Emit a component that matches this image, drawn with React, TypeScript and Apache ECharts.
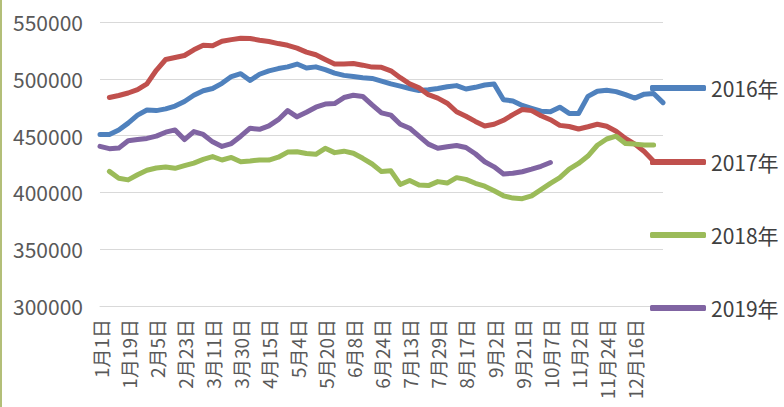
import React, { useEffect, useRef } from "react";
import * as echarts from "echarts";

const categories = [
  "1月1日", "1月7日", "1月13日", "1月19日", "1月25日", "1月31日", "2月5日", "2月11日", "2月17日", "2月23日",
  "2月28日", "3月5日", "3月11日", "3月17日", "3月24日", "3月30日", "4月5日", "4月10日", "4月15日", "4月21日",
  "4月27日", "5月4日", "5月9日", "5月15日", "5月20日", "5月27日", "6月2日", "6月8日", "6月13日", "6月19日",
  "6月24日", "7月1日", "7月7日", "7月13日", "7月18日", "7月24日", "7月29日", "8月4日", "8月11日", "8月17日",
  "8月22日", "8月28日", "9月2日", "9月9日", "9月15日", "9月21日", "9月26日", "10月1日", "10月7日", "10月16日",
  "10月25日", "11月2日", "11月9日", "11月17日", "11月24日", "12月1日", "12月9日", "12月16日", "12月22日", "12月28日",
  "12月31日",
];

const seriesNames = ["2016年", "2017年", "2018年", "2019年"];

const s2016 = [
  451000, 451000, 455000, 461000, 468000, 472500, 472000, 473500, 476000, 480000,
  485500, 489500, 491500, 496000, 502000, 504500, 498500, 504000, 507000, 509000,
  510500, 513000, 509500, 510500, 508000, 505000, 503000, 502000, 501000, 500300,
  498000, 495500, 493500, 491500, 489600, 490300, 491500, 493000, 494000, 491000,
  492500, 494500, 495500, 481500, 480500, 476500, 474000, 471500, 471000, 475000,
  469500, 469500, 484500, 489000, 490000, 488700, 486000, 483000, 486500, 487000,
  479000,
];

const s2017 = [
  null, 483500, 485300, 487500, 490500, 495500, 507500, 517000, 518800, 520500,
  525500, 529600, 529000, 533000, 534500, 535700, 535500, 534000, 532800, 531000,
  529500, 527000, 523500, 521200, 517000, 513000, 513000, 513500, 512000, 510300,
  510100, 507000, 501000, 495500, 492000, 486000, 483000, 478500, 471000, 467000,
  462500, 458500, 460000, 463500, 468500, 473000, 472000, 467500, 464000, 459000,
  458000, 455800, 457800, 460000, 458200, 453800, 447500, 442500, 436000, 427500,
];

const s2018 = [
  null, 418500, 412500, 411000, 415500, 419500, 421500, 422300, 421200, 423500,
  425800, 429000, 431500, 428500, 430800, 427000, 427600, 428600, 428500, 431000,
  435500, 435800, 434200, 433500, 438800, 435000, 436300, 434500, 430000, 425000,
  418300, 419000, 407000, 410500, 406500, 406000, 409500, 408200, 413000, 411500,
  408000, 405500, 401500, 397000, 395000, 394500, 397000, 402500, 408000, 413000,
  420500, 425500, 432000, 441500, 447000, 449500, 443000, 442500, 441700, 441700,
];

const s2019 = [
  440500, 438500, 439000, 445500, 446500, 447500, 449500, 453000, 455000, 446500,
  453500, 451000, 444500, 440500, 443000, 449500, 456500, 455500, 458500, 464000,
  472000, 466500, 470500, 475000, 477800, 478200, 483500, 485500, 484500, 477000,
  470000, 468000, 460000, 456500, 449500, 442500, 438800, 440200, 441300, 439500,
  434000, 427000, 422500, 416300, 416800, 418200, 420500, 423000, 426300,
];

const yTicks = { min: 300000, max: 550000, step: 50000 };

const colors = ["#4F81BD", "#C0504D", "#9BBB59", "#8064A2"];
const FONT = "'Noto Sans CJK SC', 'Noto Sans', sans-serif";

export default function App() {
  const ref = useRef<HTMLDivElement>(null);

  useEffect(() => {
    if (!ref.current) return;
    const chart = echarts.init(ref.current, null, { renderer: "svg" });
    const data = [s2016, s2017, s2018, s2019];
    const legendCenters = [88, 162, 235, 308];

    chart.setOption({
      animation: false,
      backgroundColor: "#ffffff",
      color: colors,
      grid: { left: 100, right: 121, top: 22, bottom: 101 },
      legend: seriesNames.map((n, i) => ({
        data: [n],
        orient: "horizontal",
        left: 650,
        top: legendCenters[i] - 12,
        itemWidth: 56,
        itemHeight: 6,
        icon: "roundRect",
        selectedMode: false,
        padding: 0,
        textStyle: { fontSize: 21, color: "#404040", lineHeight: 24, fontFamily: FONT },
      })),
      xAxis: {
        type: "category",
        data: categories,
        boundaryGap: false,
        axisLine: { show: true, lineStyle: { color: "#d9d9d9", width: 1 } },
        axisTick: { show: false },
        axisLabel: {
          rotate: 90,
          interval: (i: number) => i % 3 === 0 && i < 60,
          fontSize: 19,
          color: "#595959",
          margin: 13,
          fontFamily: FONT,
        },
        splitLine: { show: false },
      },
      yAxis: {
        type: "value",
        min: yTicks.min,
        max: yTicks.max,
        interval: yTicks.step,
        axisLine: { show: false },
        axisTick: { show: false },
        axisLabel: {
          fontSize: 21,
          color: "#595959",
          margin: 17,
          fontFamily: FONT,
          formatter: (v: number) => String(v),
        },
        splitLine: { show: true, lineStyle: { color: "#d9d9d9", width: 1 } },
      },
      graphic: [
        {
          type: "rect",
          left: 0,
          top: 0,
          shape: { width: 2, height: 407 },
          style: { fill: "#b3bf78" },
          silent: true,
        },
      ],
      series: seriesNames.map((n, i) => ({
        name: n,
        type: "line",
        data: data[i],
        symbol: "none",
        smooth: false,
        lineStyle: { width: 5, color: colors[i], cap: "round", join: "round" },
        itemStyle: { color: colors[i] },
      })),
    });

    return () => chart.dispose();
  }, []);

  return (
    <div
      ref={ref}
      style={{ position: "fixed", left: 0, top: 0, width: 784, height: 407, background: "#fff" }}
    />
  );
}
